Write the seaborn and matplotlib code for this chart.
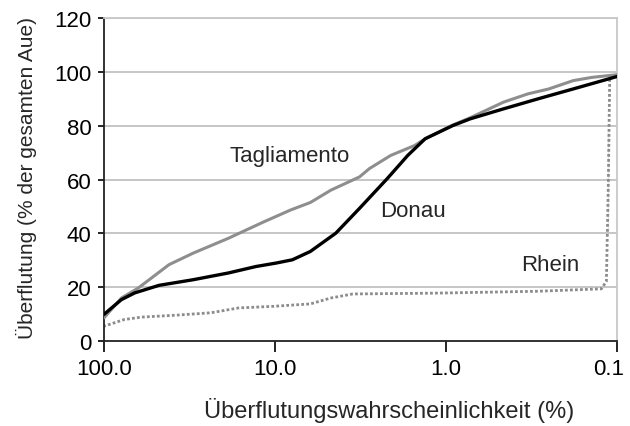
import pandas as pd
import matplotlib
matplotlib.use("Agg")
import matplotlib.pyplot as plt
import matplotlib.transforms as mtransforms
import seaborn as sns
from matplotlib.ticker import FixedLocator, FixedFormatter, NullLocator

# -------------------------------
# Data
# -------------------------------
donau_x = [100, 79, 66, 47.6, 30, 18.7, 12.9, 9.8, 7.9, 6.2, 4.4, 3.2, 2.2, 1.67, 1.32,
           0.91, 0.72, 0.46, 0.29, 0.18, 0.1]
donau_y = [9.9, 15.4, 17.9, 20.7, 22.8, 25.3, 27.7, 29.0, 30.2, 33.3, 40.1, 49.3, 60.4, 69.0, 75.2,
           80.1, 82.6, 86.3, 90.0, 93.7, 98.3]

tagl_x = [100, 79, 63, 41.6, 30, 18.7, 11.8, 8.1, 6.2, 4.7, 3.2, 2.8, 2.1, 1.52, 1.32,
          0.91, 0.72, 0.46, 0.33, 0.25, 0.18, 0.14, 0.1]
tagl_y = [8.6, 16.0, 19.7, 28.4, 32.7, 38.2, 44.1, 48.7, 51.5, 56.1, 61.0, 64.1, 69.0, 72.7, 75.2,
          80.3, 83.0, 88.8, 91.9, 93.7, 96.8, 98.0, 99.0]

rhein_x = [100, 76, 60, 38, 23.7, 16.3, 10.2, 6.2, 4.7, 3.5, 1.15, 0.29, 0.123, 0.115, 0.112,
           0.112, 0.11]
rhein_y = [5.5, 8.0, 8.9, 9.6, 10.5, 12.3, 12.9, 13.8, 16.0, 17.5, 17.8, 18.5, 19.4, 22.2, 40.7,
           77.7, 97.4]

x_ticks = [100, 10, 1, 0.1]
x_tick_labels = ["100.0", "10.0", "1.0", "0.1"]
y_ticks = [0, 20, 40, 60, 80, 100, 120]

# -------------------------------
# Plot
# -------------------------------
sns.set_style("white")
plt.rcParams['font.family'] = ['Liberation Sans', 'DejaVu Sans']
fs = 16

fig, ax = plt.subplots(figsize=(6.3, 4.27), dpi=100)
fig.subplots_adjust(left=0.165, right=0.979, top=0.955, bottom=0.199)

for y in y_ticks[1:]:
    ax.axhline(y, color="#bcbcbc", lw=1.2, zorder=0)

sns.lineplot(x=rhein_x, y=rhein_y, ax=ax, color="#8c8c8c", lw=2.0, linestyle=(0, (1, 0.8)), zorder=2)
sns.lineplot(x=tagl_x, y=tagl_y, ax=ax, color="#8e8e8e", lw=2.2, zorder=3)
sns.lineplot(x=donau_x, y=donau_y, ax=ax, color="black", lw=2.4, zorder=4)

ax.set_xscale("log")
ax.set_xlim(100, 0.1)
ax.set_ylim(0, 120)
ax.xaxis.set_major_locator(FixedLocator(x_ticks))
ax.xaxis.set_major_formatter(FixedFormatter(x_tick_labels))
ax.xaxis.set_minor_locator(NullLocator())
ax.set_yticks(y_ticks)

ax.tick_params(axis="both", labelsize=fs, colors="black", width=1.2,
               direction="out", bottom=True, left=True)
ax.tick_params(axis="x", length=8, pad=4)
ax.tick_params(axis="y", length=4, pad=5)

# last x label sits slightly left so it stays inside the figure
fig.canvas.draw()
last = ax.get_xticklabels()[-1]
last.set_transform(last.get_transform() + mtransforms.ScaledTranslation(-8 / 100, 0, fig.dpi_scale_trans))

for side in ["left", "bottom"]:
    ax.spines[side].set_color("#222222")
    ax.spines[side].set_linewidth(1.3)
for side in ["top", "right"]:
    ax.spines[side].set_color("#c8c8c8")
    ax.spines[side].set_linewidth(1.3)

ax.text(8.2, 68.8, "Tagliamento", fontsize=fs, ha="center", va="center")
ax.text(1.55, 48.7, "Donau", fontsize=fs, ha="center", va="center")
ax.text(0.244, 28.4, "Rhein", fontsize=fs, ha="center", va="center")

ax.set_xlabel("Überflutungswahrscheinlichkeit (%)", fontsize=17)
ax.set_ylabel("Überflutung (% der gesamten Aue)", fontsize=15)
ax.xaxis.set_label_coords(0.557, -0.172)
ax.yaxis.set_label_coords(-0.13, 0.508)

plt.savefig("out.png", dpi=100)
